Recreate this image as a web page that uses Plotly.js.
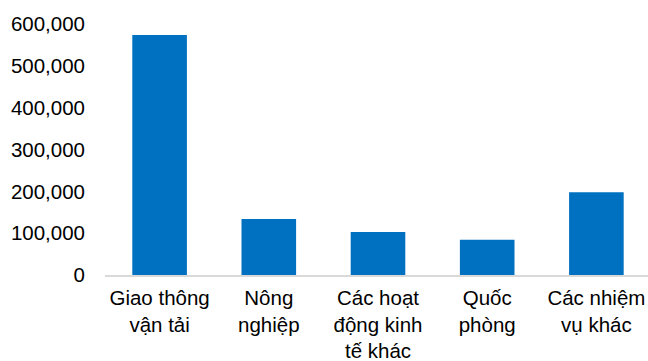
<!DOCTYPE html>
<html>
<head>
<meta charset="utf-8">
<script src="https://cdn.plot.ly/plotly-3.0.1.min.js"></script>
<style>html,body{margin:0;padding:0;background:#fff;overflow:hidden;}#chart{width:648px;height:361px;}</style>
</head>
<body>
<div id="chart"></div>
<script>
const categories = ["Giao thông<br>vận tải", "Nông<br>nghiệp", "Các hoạt<br>động kinh<br>tế khác", "Quốc<br>phòng", "Các nhiệm<br>vụ khác"];
const values = [574000, 134000, 103000, 84000, 198000];
const yTicks = [0, 100000, 200000, 300000, 400000, 500000, 600000];
const yTickLabels = ["0", "100,000", "200,000", "300,000", "400,000", "500,000", "600,000"];

const trace = {
  type: 'bar',
  x: categories,
  y: values,
  marker: {color: '#0070C0'},
  hoverinfo: 'none'
};

const layout = {
  width: 648,
  height: 361,
  margin: {l: 104.5, r: 0, t: 24, b: 86, pad: 0},
  paper_bgcolor: '#ffffff',
  plot_bgcolor: '#ffffff',
  bargap: 0.5,
  showlegend: false,
  font: {family: 'Liberation Sans, Arial, sans-serif', size: 20.5, color: '#000000'},
  xaxis: {
    type: 'category',
    range: [-0.5, 4.4726],
    showline: true,
    linecolor: '#d9d9d9',
    linewidth: 1.5,
    showgrid: false,
    zeroline: false,
    ticks: '',
    tickangle: 0,
    ticklabelstandoff: 4,
    tickfont: {size: 20.5, color: '#000000'}
  },
  yaxis: {
    range: [0, 600000],
    tickvals: yTicks,
    ticktext: yTickLabels,
    showgrid: false,
    zeroline: false,
    showline: false,
    ticks: '',
    ticklabelstandoff: 19,
    tickfont: {size: 20.5, color: '#000000'}
  }
};

Plotly.newPlot('chart', [trace], layout, {displayModeBar: false, staticPlot: true});
</script>
</body>
</html>
